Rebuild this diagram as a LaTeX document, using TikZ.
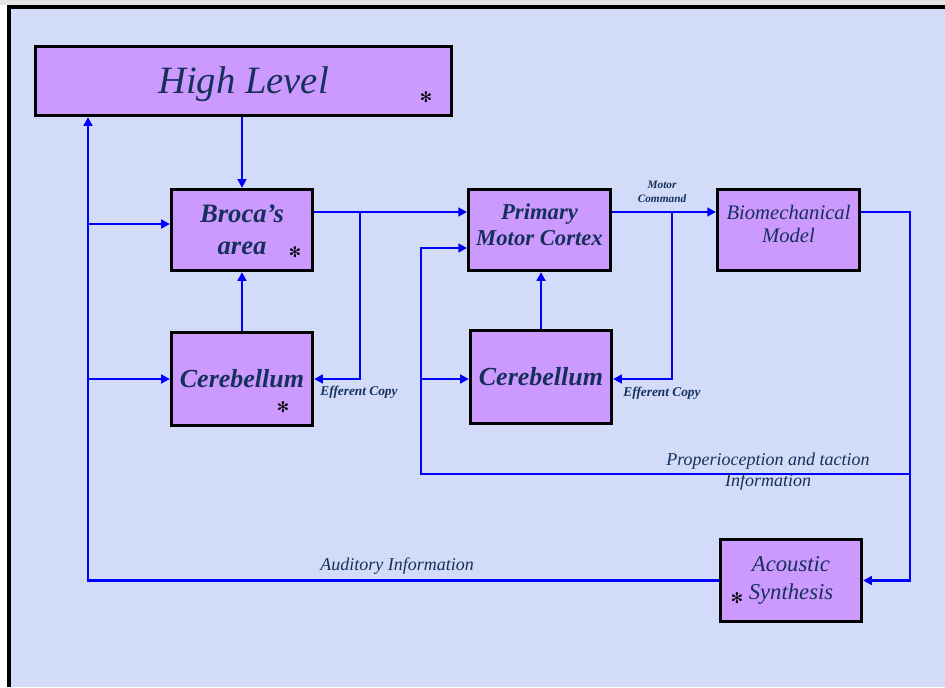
\documentclass[tikz,border=0pt]{standalone}
\usepackage{fontspec}
\setmainfont{Liberation Serif}
\newfontfamily\symfont{DejaVu Sans}
\usetikzlibrary{arrows.meta}
\definecolor{boxfill}{RGB}{204,153,255}
\definecolor{paper}{RGB}{210,220,248}
\definecolor{ink}{RGB}{22,48,92}
\definecolor{wire}{RGB}{0,0,255}

\begin{document}
\begin{tikzpicture}[
    x=0.75pt, y=-0.75pt,
    box/.style={rectangle, draw=black, line width=2.2pt, fill=boxfill, text=ink, align=center, inner sep=2pt},
    arrow/.style={-{Triangle[length=6.5pt,width=6.5pt]}, line width=2.2pt, draw=wire},
    lbl/.style={text=ink, align=center, inner sep=1pt},
    star/.style={inner sep=0pt, font=\symfont\fontsize{11}{11}\selectfont}
]

% Page background and frame
\fill[paper] (0,0) rectangle (945,687);
\fill[gray!20] (0,0) rectangle (945,5);
\fill[white] (0,5) rectangle (7,687);
\fill[black] (7,5) rectangle (945,8.5);
\fill[black] (7,5) rectangle (10.5,687);
\useasboundingbox (0,0) rectangle (945,687);

% Blocks
\node[box, minimum width=312pt, minimum height=52pt, font=\fontsize{29}{34}\selectfont\itshape] (high) at (243.5,81) {\raisebox{-9.5pt}[0pt][0pt]{High Level}};
\node[box, minimum width=106pt, minimum height=61pt, font=\fontsize{20}{24}\selectfont\bfseries\itshape] (broca) at (242,230) {Broca’s\\area};
\node[box, minimum width=106pt, minimum height=70pt, font=\fontsize{19.5}{24}\selectfont\bfseries\itshape] (cerebL) at (242,379) {Cerebellum};
\node[box, minimum width=106.5pt, minimum height=61pt, font=\fontsize{17}{20}\selectfont\bfseries\itshape] (pmc) at (539.5,230) {Primary\\Motor Cortex\\[-12pt]};
\node[box, minimum width=106pt, minimum height=70pt, font=\fontsize{19.5}{24}\selectfont\bfseries\itshape] (cerebR) at (541,377) {Cerebellum};
\node[box, minimum width=106.5pt, minimum height=61pt, font=\fontsize{15.5}{17.5}\selectfont\itshape] (bio) at (788.5,230) {Biomechanical\\Model\\[-8pt]};
\node[box, minimum width=106pt, minimum height=61.5pt, font=\fontsize{17}{21}\selectfont\itshape] (acoustic) at (791,580.5) {Acoustic\\Synthesis};

% Asterisks
\node[star] (starHigh) at (426,97) {✻};
\node[star] (starBroca) at (295,252) {✻};
\node[star] (starCerebL) at (283,407) {✻};
\node[star] (starAcoustic) at (737,598) {✻};

% Junctions
\coordinate (busL) at (88,580);
\coordinate (eff1) at (360,212);
\coordinate (busP) at (421,474);
\coordinate (eff2) at (672,212);
\coordinate (busR) at (910,212);

% Connectors
\draw[arrow] (high.south -| broca.north) -- (broca.north);
\draw[arrow] (acoustic.west) -- (acoustic.west -| busL) -- (busL |- high.south);
\draw[arrow] (busL |- 0,224) -- ([yshift=4.5pt]broca.west);
\draw[arrow] (busL |- cerebL.west) -- (cerebL.west);
\draw[arrow] (cerebL.north) -- (broca.south -| cerebL.north);
\draw[arrow] ([yshift=13.5pt]broca.east) -- ([yshift=13.5pt]pmc.west);
\draw[arrow] (eff1) -- (eff1 |- cerebL.east) -- (cerebL.east);
\draw[arrow] (cerebR.north) -- (pmc.south -| cerebR.north);
\draw[arrow] ([yshift=13.5pt]pmc.east) -- ([yshift=13.5pt]bio.west);
\draw[arrow] (eff2) -- (eff2 |- 0,379) -- (cerebR.east |- 0,379);
\draw[arrow] ([yshift=13.5pt]bio.east) -- (busR) -- (busR |- acoustic.east) -- (acoustic.east);
\draw[arrow] (busR |- busP) -- (busP) -- ([yshift=-13.5pt]pmc.west -| busP) -- ([yshift=-13.5pt]pmc.west);
\draw[arrow] (busP |- 0,379) -- (cerebR.west |- 0,379);

% Labels
\node[lbl, font=\fontsize{10}{12}\selectfont\bfseries\itshape] (effLblL) at (359,392) {Efferent Copy};
\node[lbl, font=\fontsize{10}{12}\selectfont\bfseries\itshape] (effLblR) at (662,393) {Efferent Copy};
\node[lbl, font=\fontsize{8.5}{11}\selectfont\bfseries\itshape] (cmdLbl) at (662,192) {Motor\\Command};
\node[lbl, font=\fontsize{13.5}{15.75}\selectfont\itshape] (propLbl) at (768,472) {Properioception and taction\\Information};
\node[lbl, font=\fontsize{13.5}{15}\selectfont\itshape] (audLbl) at (397,566) {Auditory Information};

\end{tikzpicture}
\end{document}
